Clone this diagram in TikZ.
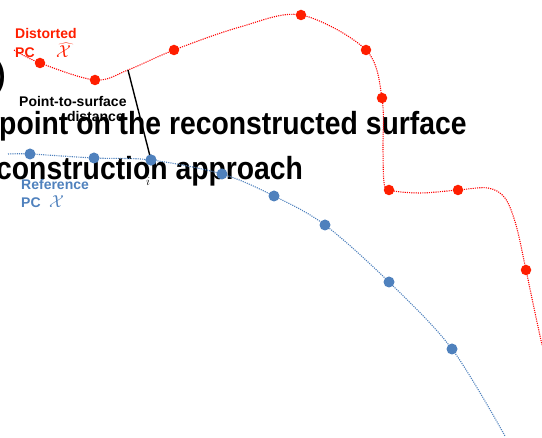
\documentclass[tikz,border=0pt]{standalone}
\usepackage{fontspec}
\setmainfont{Liberation Sans}
\definecolor{rd}{RGB}{255,30,0}
\definecolor{rline}{RGB}{255,0,0}
\definecolor{bl}{RGB}{79,129,189}
\newcommand{\narrowtext}[1]{\scalebox{0.885}[1]{#1}}
\begin{document}
\begin{tikzpicture}[x=1pt,y=-1pt,
  rdot/.style={circle,fill=rd,inner sep=0pt,minimum size=10.5pt},
  bdot/.style={circle,fill=bl,inner sep=0pt,minimum size=11pt},
  rcurve/.style={draw=rline,line width=1.1pt,dash pattern=on 1.1pt off 1.1pt},
  bcurve/.style={draw=bl,line width=1.1pt,dash pattern=on 1.1pt off 1.1pt},
  big/.style={font=\bfseries\fontsize{32}{32}\selectfont,inner sep=0pt,anchor=base west},
  lab/.style={font=\bfseries\fontsize{14}{14}\selectfont,inner sep=0pt,anchor=base west},
  sym/.style={font=\fontsize{17}{17}\selectfont,inner sep=0pt,anchor=base west}]
\useasboundingbox (0,0) rectangle (542,438);
\clip (0,0) rectangle (542,438);
% label partly hidden behind the large text
\node[lab,anchor=base east] (dst) at (124,122) {distance};
% large background text
\node[big] (paren) at (-4,86) {\narrowtext{)}};
\node[big] (l1) at (-1,135) {\narrowtext{point on the reconstructed surface}};
\node[big] (l2) at (-4,180) {\narrowtext{construction approach}};
% curves
\draw[rcurve] plot[smooth,tension=0.55] coordinates {(14,50) (40,63) (95,80) (128,70) (174,50) (240,27) (301,15) (366,50) (382,98) (383,150) (384,182) (389,190) (420,193) (458,190) (488,188) (505,198) (516,225) (526,270) (534,308) (542,345)};
\draw[bcurve] plot[smooth,tension=0.55] coordinates {(8,154) (30,154) (94,158) (151,160) (222,174) (274,196) (325,225) (389,282) (452,349) (505,436)};
% blue points
\node[bdot] (b1) at (30,154) {};
\node[bdot] (b2) at (94,158) {};
\node[bdot] (b3) at (151,160) {};
\node[bdot] (b4) at (222,174) {};
\node[bdot] (b5) at (274,196) {};
\node[bdot] (b6) at (325,225) {};
\node[bdot] (b7) at (389,282) {};
\node[bdot] (b8) at (452,349) {};
% distance segment
\coordinate (foot) at (128,70);
\draw[line width=1.4pt] (foot) -- (b3.center);
\node[bdot] at (b3) {};
% red points
\node[rdot] (r1) at (40,63) {};
\node[rdot] (r2) at (95,80) {};
\node[rdot] (r3) at (174,50) {};
\node[rdot] (r4) at (301,15) {};
\node[rdot] (r5) at (366,50) {};
\node[rdot] (r6) at (382,98) {};
\node[rdot] (r7) at (389,190) {};
\node[rdot] (r8) at (458,190) {};
\node[rdot] (r9) at (526,270) {};
% labels
\node[lab,text=rd] (dist) at (15,39) {Distorted};
\node[lab,text=rd] (dpc) at (15,58) {PC};
\node[sym,text=rd] (xhat) at (56,58) {$\widehat{\mathcal{X}}$};
\node[lab] (p2s) at (19,107) {Point-to-surface};
\node[lab,text=bl] (ref) at (21,190) {Reference};
\node[lab,text=bl] (rpc) at (21,208) {PC};
\node[sym,text=bl] (xx) at (49,208) {$\mathcal{X}$};
\node[sym,font=\fontsize{13}{13}\selectfont] (ii) at (146,186) {$i$};
\end{tikzpicture}
\end{document}
